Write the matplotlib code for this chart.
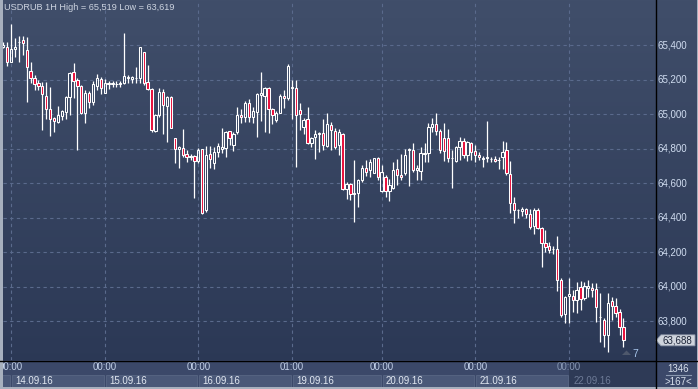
import numpy as np
import matplotlib
matplotlib.use('Agg')
from matplotlib import pyplot as plt
from matplotlib.patches import Rectangle, Polygon
from matplotlib.lines import Line2D
import matplotlib.transforms as mtransforms

plt.rcParams['font.family'] = ['Liberation Sans', 'DejaVu Sans']

# hourly USDRUB candles
opens = [65.390, 65.386, 65.303, 65.375, 65.415, 65.429, 65.371, 65.249, 65.211, 65.178,
         65.162, 65.104, 65.027, 64.979, 64.955, 64.990, 65.013, 65.097, 65.241, 65.197,
         65.162, 65.004, 65.124, 65.068, 65.164, 65.201, 65.124, 65.174, 65.176, 65.172,
         65.176, 65.182, 65.210, 65.205, 65.206, 65.207, 65.357, 65.184, 65.145, 64.903,
         64.994, 65.129, 65.048, 65.100, 64.859, 64.795, 64.801, 64.768, 64.752, 64.756,
         64.727, 64.795, 64.443, 64.766, 64.718, 64.781, 64.799, 64.801, 64.901, 64.820,
         64.893, 64.994, 64.984, 65.066, 64.984, 65.013, 65.108, 65.104, 65.149, 65.027,
         64.965, 65.008, 65.104, 65.091, 65.149, 65.149, 65.023, 64.926, 64.969, 64.830,
         64.865, 64.886, 64.892, 64.814, 64.936, 64.903, 64.820, 64.882, 64.563, 64.592,
         64.536, 64.540, 64.617, 64.685, 64.675, 64.660, 64.743, 64.555, 64.636, 64.555,
         64.574, 64.679, 64.646, 64.660, 64.791, 64.791, 64.675, 64.671, 64.768, 64.772,
         64.926, 64.942, 64.903, 64.859, 64.859, 64.745, 64.729, 64.810, 64.845, 64.762,
         64.834, 64.787, 64.762, 64.739, 64.745, 64.737, 64.739, 64.733, 64.752, 64.791,
         64.652, 64.482, 64.445, 64.437, 64.449, 64.420, 64.350, 64.443, 64.341, 64.254,
         64.234, 64.215, 64.215, 64.037, 63.840, 63.944, 63.944, 63.921, 63.995, 63.931,
         63.989, 63.991, 63.983, 63.825, 63.805, 63.718, 63.915, 63.886, 63.850, 63.766]
highs = [65.415, 65.419, 65.519, 65.439, 65.452, 65.452, 65.448, 65.300, 65.226, 65.197,
         65.187, 65.187, 65.158, 64.984, 65.046, 65.023, 65.104, 65.245, 65.298, 65.207,
         65.168, 65.139, 65.133, 65.193, 65.232, 65.212, 65.201, 65.191, 65.191, 65.191,
         65.191, 65.468, 65.226, 65.220, 65.274, 65.388, 65.360, 65.284, 65.149, 65.000,
         65.149, 65.143, 65.104, 65.104, 64.859, 64.814, 64.913, 64.791, 64.766, 64.762,
         64.801, 64.795, 64.814, 64.814, 64.807, 64.830, 64.917, 64.901, 64.901, 64.897,
         65.042, 65.027, 65.077, 65.085, 65.042, 65.120, 65.241, 65.158, 65.154, 65.033,
         65.017, 65.116, 65.139, 65.288, 65.197, 65.197, 65.066, 64.975, 65.038, 64.868,
         64.907, 64.897, 64.969, 65.008, 64.955, 64.917, 64.911, 64.888, 64.607, 64.598,
         64.733, 64.621, 64.704, 64.733, 64.737, 64.743, 64.752, 64.704, 64.646, 64.621,
         64.723, 64.737, 64.768, 64.795, 64.801, 64.833, 64.704, 64.810, 64.833, 64.946,
         64.975, 65.008, 64.911, 64.946, 64.911, 64.791, 64.814, 64.864, 64.859, 64.845,
         64.839, 64.820, 64.781, 64.756, 64.960, 64.748, 64.756, 64.748, 64.843, 64.835,
         64.727, 64.520, 64.451, 64.462, 64.453, 64.449, 64.458, 64.458, 64.346, 64.327,
         64.259, 64.234, 64.292, 64.047, 63.946, 64.047, 63.979, 64.027, 64.033, 64.027,
         64.037, 64.022, 64.022, 63.964, 63.815, 63.960, 63.940, 63.931, 63.869, 63.815]
lows = [65.380, 65.280, 65.300, 65.329, 65.303, 65.342, 65.071, 65.178, 65.139, 65.139,
        64.907, 64.969, 64.874, 64.894, 64.950, 64.965, 64.969, 64.994, 65.095, 64.791,
        64.998, 64.950, 65.033, 65.052, 65.139, 65.116, 65.120, 65.143, 65.158, 65.158,
        65.158, 65.172, 65.182, 65.182, 65.182, 65.182, 65.168, 65.139, 64.897, 64.897,
        64.984, 64.884, 64.839, 64.917, 64.718, 64.689, 64.752, 64.723, 64.733, 64.511,
        64.718, 64.420, 64.433, 64.685, 64.679, 64.752, 64.772, 64.752, 64.820, 64.787,
        64.884, 64.946, 64.955, 64.955, 64.946, 64.865, 64.959, 64.897, 64.892, 64.940,
        64.955, 65.004, 65.033, 65.081, 64.969, 64.694, 64.907, 64.882, 64.826, 64.807,
        64.737, 64.781, 64.790, 64.806, 64.791, 64.795, 64.762, 64.559, 64.505, 64.501,
        64.375, 64.462, 64.607, 64.640, 64.632, 64.656, 64.617, 64.549, 64.520, 64.497,
        64.563, 64.588, 64.617, 64.646, 64.582, 64.665, 64.617, 64.617, 64.723, 64.723,
        64.897, 64.878, 64.772, 64.729, 64.723, 64.569, 64.723, 64.733, 64.743, 64.729,
        64.733, 64.723, 64.733, 64.694, 64.721, 64.723, 64.723, 64.679, 64.679, 64.646,
        64.424, 64.366, 64.400, 64.408, 64.400, 64.331, 64.304, 64.333, 64.114, 64.201,
        64.196, 64.188, 63.975, 63.824, 63.790, 63.786, 63.853, 63.848, 63.863, 63.921,
        63.941, 63.941, 63.795, 63.680, 63.651, 63.619, 63.805, 63.824, 63.718, 63.651]
closes = [65.400, 65.303, 65.377, 65.386, 65.420, 65.414, 65.274, 65.207, 65.174, 65.164,
          65.116, 65.027, 64.973, 64.959, 64.994, 65.017, 65.097, 65.240, 65.191, 65.162,
          65.004, 65.120, 65.071, 65.174, 65.207, 65.149, 65.182, 65.182, 65.180, 65.174,
          65.178, 65.220, 65.214, 65.212, 65.208, 65.386, 65.182, 65.143, 64.907, 64.994,
          65.129, 65.052, 65.097, 64.917, 64.795, 64.807, 64.762, 64.752, 64.755, 64.727,
          64.791, 64.424, 64.762, 64.737, 64.781, 64.814, 64.807, 64.897, 64.859, 64.884,
          64.994, 64.980, 65.062, 64.984, 65.017, 65.114, 65.120, 65.149, 65.027, 64.994,
          65.004, 65.104, 65.091, 65.280, 65.154, 64.994, 64.998, 64.965, 64.830, 64.859,
          64.884, 64.888, 64.820, 64.942, 64.907, 64.806, 64.897, 64.563, 64.594, 64.536,
          64.544, 64.617, 64.685, 64.665, 64.723, 64.743, 64.632, 64.665, 64.555, 64.588,
          64.675, 64.646, 64.632, 64.762, 64.795, 64.675, 64.685, 64.772, 64.776, 64.926,
          64.942, 64.903, 64.791, 64.787, 64.743, 64.743, 64.806, 64.845, 64.762, 64.839,
          64.781, 64.762, 64.748, 64.747, 64.748, 64.740, 64.729, 64.733, 64.781, 64.656,
          64.482, 64.443, 64.443, 64.447, 64.420, 64.346, 64.443, 64.337, 64.254, 64.230,
          64.211, 64.215, 64.037, 63.834, 63.941, 63.956, 63.921, 63.979, 63.925, 64.002,
          64.002, 63.979, 63.882, 63.823, 63.718, 63.906, 63.888, 63.848, 63.766, 63.688]

price_ticks = [63.8, 64.0, 64.2, 64.4, 64.6, 64.8, 65.0, 65.2, 65.4]
day_starts = [2, 26, 50, 74, 97, 121, 145]          # bar index of first hour of each day
hour_labels = ['00:00', '00:00', '00:00', '01:00', '00:00', '00:00', '00:00']
day_labels = ['14.09.16', '15.09.16', '16.09.16', '19.09.16', '20.09.16', '21.09.16', '22.09.16']
title = 'USDRUB 1H High = 65,519 Low = 63,619'

W, H = 698, 389
def fx(x): return x / W
def fy(y): return 1 - y / H
def fmt(v): return f'{v:.3f}'.replace('.', ',')

o = np.array(opens); h = np.array(highs); l = np.array(lows); c = np.array(closes)
x = np.arange(len(o))
xlim = (-0.08, 167.1)

fig = plt.figure(figsize=(6.98, 3.89), dpi=100)

# background gradient over the whole window
bg = fig.add_axes([0, 0, 1, 1])
bg.set_axis_off()
top = np.array([64, 78, 106]) / 255
bot = np.array([42, 55, 84]) / 255
t = np.linspace(0, 1, 256)[:, None, None]
bg.imshow(top + (bot - top) * t, aspect='auto', extent=[0, 1, 0, 1])
bg.set_xlim(0, 1); bg.set_ylim(0, 1)

ax = fig.add_axes([fx(3), fy(360), fx(652), 360 / H])
ax.set_facecolor('none')
ax.set_axis_off()
ax.set_xlim(*xlim)
ax.set_ylim(63.574, 65.661)

grid_kw = dict(color='#5a6a8c', lw=0.8, ls=(0, (3, 3)), zorder=1)
for p in price_ticks:
    ax.axhline(p, **grid_kw)
for d in day_starts:
    ax.axvline(d, **grid_kw)

top_b = np.maximum(o, c)
bot_b = np.minimum(o, c)
ax.vlines(x, top_b, h, color='white', lw=0.9, zorder=2)
ax.vlines(x, l, bot_b, color='white', lw=0.9, zorder=2)
down = c < o
ax.bar(x[down], (top_b - bot_b)[down], bottom=bot_b[down], width=0.6,
       color='#e8103c', edgecolor='white', linewidth=0.75, zorder=3)
ax.bar(x[~down], (top_b - bot_b)[~down], bottom=bot_b[~down], width=0.6,
       color='none', edgecolor='white', linewidth=0.75, zorder=3)

# right price scale
tr = mtransforms.blended_transform_factory(fig.transFigure, ax.transData)
for p in price_ticks:
    ax.text(fx(657), p, fmt(p), transform=tr, fontsize=7, color='#d0dcf0',
            va='center', ha='left', clip_on=False)

# last price tag
last = closes[-1]
tag_y = H - ax.transData.transform((0, last))[1] / fig.bbox.height * H
tag = Polygon([[fx(656), fy(tag_y)], [fx(661), fy(tag_y - 5.5)], [fx(695), fy(tag_y - 5.5)],
               [fx(695), fy(tag_y + 5.5)], [fx(661), fy(tag_y + 5.5)]],
              closed=True, transform=fig.transFigure, fc='#cfd4dc', ec='#8a94a6', lw=0.6)
fig.add_artist(tag)
fig.text(fx(677), fy(tag_y), fmt(last), fontsize=7, color='#1c2438', ha='center', va='center')

# bottom time scale
bax = fig.add_axes([fx(3), 0, fx(652), 29 / H])
bax.set_axis_off()
bax.set_xlim(*xlim)
bax.set_ylim(389, 360)
bax.add_patch(Rectangle((xlim[0], 360), xlim[1] - xlim[0], 29, fc='#3b4869', ec='none'))
bounds = [-1] + day_starts + [170]
for i in range(len(bounds) - 1):
    a, b = bounds[i], bounds[i + 1]
    fc = '#4a5878' if i < len(bounds) - 2 else '#2e3a56'
    bax.add_patch(Rectangle((a + 0.25, 374.5), b - a - 0.5, 12, fc=fc, ec='#5c6a88', lw=0.5))
bax.add_patch(Rectangle((day_starts[-1], 360), xlim[1] - day_starts[-1], 27, fc='#2e3a56',
                        ec='none', zorder=2))
for d, hl, dl in zip(day_starts, hour_labels, day_labels):
    last_day = d == day_starts[-1]
    bax.text(d, 367.5, hl, fontsize=7, color='#c4d2ea' if not last_day else '#8898b4',
             ha='center', va='center', zorder=3)
    bax.text(d + 1.1, 381, dl, fontsize=7, color='#e2e8f2' if not last_day else '#6d7a96',
             ha='left', va='center', zorder=3)

# bottom-right counter box
fig.add_artist(Rectangle((fx(655.5), 0), fx(42), 29 / H, fc='#3b4869', ec='none',
                         transform=fig.transFigure))

# frame lines and borders
fig.add_artist(Line2D([fx(655.5)] * 2, [0, 1], color='black', lw=1, transform=fig.transFigure))
fig.add_artist(Line2D([0, 1], [fy(360.5)] * 2, color='black', lw=1, transform=fig.transFigure))
fig.add_artist(Rectangle((0, 0), fx(2.5), 1, fc='#a7b0be', ec='none', transform=fig.transFigure))
fig.add_artist(Rectangle((0, 0), 1, 2.5 / H, fc='#a7b0be', ec='none', transform=fig.transFigure))
fig.add_artist(Rectangle((fx(696.5), 0), fx(2), 1, fc='#a7b0be', ec='none', transform=fig.transFigure))

fig.text(fx(4), fy(8), title, fontsize=6.6, color='#cdd4e0', ha='left', va='center')
fig.text(fx(678), fy(368.5), '1346', fontsize=7, color='#d8e0ec', ha='center', va='center')
fig.add_artist(Line2D([fx(666), fx(691)], [fy(375)] * 2, color='#8a98b0', lw=0.8,
                      transform=fig.transFigure))
fig.text(fx(678), fy(382), '>167<', fontsize=7, color='#d8e0ec', ha='center', va='center')
fig.add_artist(Polygon([[fx(622), fy(355)], [fx(631), fy(355)], [fx(626.5), fy(350.5)]],
                       closed=True, fc='#4e586c', ec='none', transform=fig.transFigure))
fig.text(fx(632), fy(354), '7', fontsize=7.5, color='#a8c6ec', ha='left', va='center')

fig.savefig('out.png', dpi=100)
